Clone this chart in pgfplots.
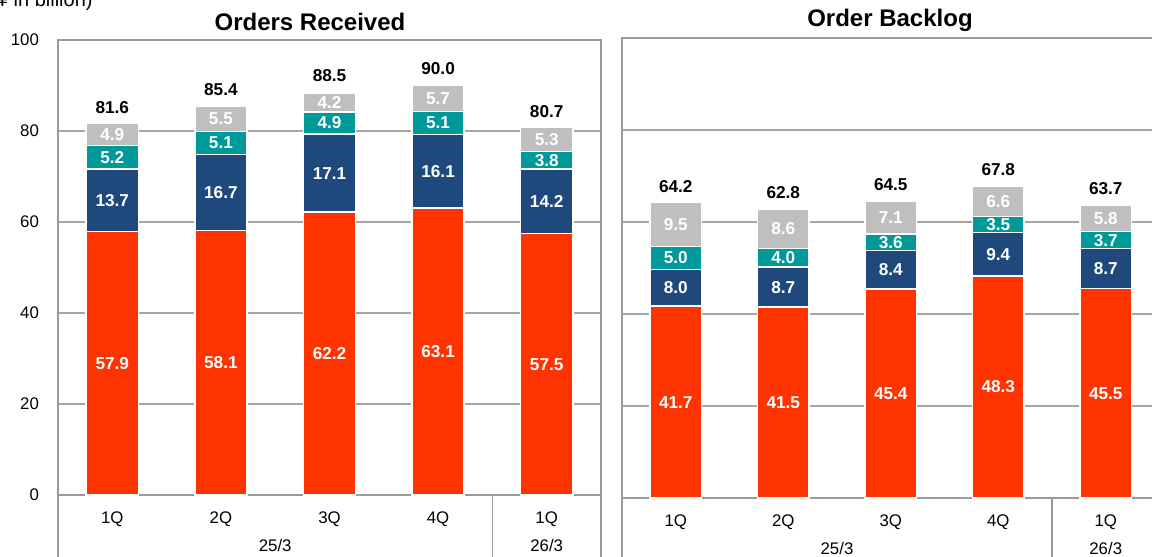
\documentclass[border=0pt]{standalone}
\usepackage{fontspec}
\setmainfont{Liberation Sans}
\usepackage{pgfplots}
\usepackage{pgfplotstable}
\pgfplotsset{compat=1.18}

\definecolor{cRed}{HTML}{FF3300}
\definecolor{cNavy}{HTML}{1F497D}
\definecolor{cTeal}{HTML}{009999}
\definecolor{cGrey}{HTML}{BFBFBF}
\definecolor{axisgray}{HTML}{9A9A9A}
\definecolor{gridgray}{HTML}{A6A6A6}

\newcommand\tickfont{\fontsize{8.4}{10}\selectfont}
\newcommand\lblfont{\fontsize{8.6}{10}\selectfont\bfseries}
\newcommand\titlefont{\fontsize{12}{14}\selectfont\bfseries}

% quarter, segments from bottom to top, total
\pgfplotstableread{
x r n t g tot
0 57.9 13.7 5.2 4.9 81.6
1 58.1 16.7 5.1 5.5 85.4
2 62.2 17.1 4.9 4.2 88.5
3 63.1 16.1 5.1 5.7 90.0
4 57.5 14.2 3.8 5.3 80.7
}\ordtab

\pgfplotstableread{
x r n t g tot
0 41.7 8.0 5.0 9.5 64.2
1 41.5 8.7 4.0 8.6 62.8
2 45.4 8.4 3.6 7.1 64.5
3 48.3 9.4 3.5 6.6 67.8
4 45.5 8.7 3.7 5.8 63.7
}\bcktab

\pgfplotsset{
  frame/.style={
    scale only axis, anchor=south west,
    xmin=-0.5, xmax=4.5, ymin=0, ymax=100,
    clip=false,
  },
  panel/.style={
    frame,
    ybar stacked, bar width=0.48,
    ytick={0,20,...,100},
    xtick={0,...,4}, xticklabels={1Q,2Q,3Q,4Q,1Q},
    ymajorgrids, grid style={gridgray, line width=0.75pt},
    axis line style={axisgray, line width=0.75pt},
    major tick length=0pt,
    tick label style={font=\tickfont},
    xticklabel style={yshift=-5pt},
    /pgf/number format/assume math mode=true,
  },
  labels/.style={frame, hide axis},
  seg/.style={fill=#1, draw=white, line width=0.75pt},
  seglbl/.style={
    draw=none, mark=none,
    nodes near coords, point meta=explicit symbolic,
    every node near coord/.append style={font=\lblfont, text=white,
      anchor=center, inner sep=0pt},
  },
  totlbl/.style={
    draw=none, mark=none,
    nodes near coords, point meta=explicit symbolic,
    every node near coord/.append style={font=\lblfont, text=black,
      anchor=south, inner sep=0pt, yshift=5pt},
  },
}

\begin{document}
\begin{tikzpicture}[x=1pt,y=1pt]
\useasboundingbox (-29,-31) rectangle (547,247.5);

% ---------------- Orders received ----------------
\begin{axis}[panel, at={(0pt,0pt)}, width=271.5pt, height=227.5pt,
  yticklabel style={xshift=-6pt}]
  \addplot[seg=cRed]  table[x=x, y=r]{\ordtab};
  \addplot[seg=cNavy] table[x=x, y=n]{\ordtab};
  \addplot[seg=cTeal] table[x=x, y=t]{\ordtab};
  \addplot[seg=cGrey] table[x=x, y=g]{\ordtab};
  \foreach \xx in {-0.5,3.5,4.5}{
    \edef\tmp{\noexpand\draw[axisgray, line width=0.75pt]
      (axis cs:\xx,0) -- ([yshift=-40pt]axis cs:\xx,0);}\tmp
  }
  \node[font=\tickfont] at ([yshift=-25pt]axis cs:1.5,0) {25/3};
  \node[font=\tickfont] at ([yshift=-25pt]axis cs:4,0) {26/3};
\end{axis}
\begin{axis}[labels, at={(0pt,0pt)}, width=271.5pt, height=227.5pt]
  \addplot[seglbl] table[x=x, y expr=\thisrow{r}/2, meta=r]{\ordtab};
  \addplot[seglbl] table[x=x, y expr=\thisrow{r}+\thisrow{n}/2, meta=n]{\ordtab};
  \addplot[seglbl] table[x=x, y expr=\thisrow{r}+\thisrow{n}+\thisrow{t}/2, meta=t]{\ordtab};
  \addplot[seglbl] table[x=x, y expr=\thisrow{r}+\thisrow{n}+\thisrow{t}+\thisrow{g}/2, meta=g]{\ordtab};
  \addplot[totlbl] table[x=x, y=tot, meta=tot]{\ordtab};
\end{axis}

% ---------------- Order backlog ----------------
\begin{axis}[panel, at={(282pt,-1.5pt)}, width=268.75pt, height=230pt,
  yticklabels={}]
  \addplot[seg=cRed]  table[x=x, y=r]{\bcktab};
  \addplot[seg=cNavy] table[x=x, y=n]{\bcktab};
  \addplot[seg=cTeal] table[x=x, y=t]{\bcktab};
  \addplot[seg=cGrey] table[x=x, y=g]{\bcktab};
  \foreach \xx in {-0.5,3.5}{
    \edef\tmp{\noexpand\draw[axisgray, line width=0.75pt]
      (axis cs:\xx,0) -- ([yshift=-40pt]axis cs:\xx,0);}\tmp
  }
  \node[font=\tickfont] at ([yshift=-25pt]axis cs:1.5,0) {25/3};
  \node[font=\tickfont] at ([yshift=-25pt]axis cs:4,0) {26/3};
\end{axis}
\begin{axis}[labels, at={(282pt,-1.5pt)}, width=268.75pt, height=230pt]
  \addplot[seglbl] table[x=x, y expr=\thisrow{r}/2, meta=r]{\bcktab};
  \addplot[seglbl] table[x=x, y expr=\thisrow{r}+\thisrow{n}/2, meta=n]{\bcktab};
  \addplot[seglbl] table[x=x, y expr=\thisrow{r}+\thisrow{n}+\thisrow{t}/2, meta=t]{\bcktab};
  \addplot[seglbl] table[x=x, y expr=\thisrow{r}+\thisrow{n}+\thisrow{t}+\thisrow{g}/2, meta=g]{\bcktab};
  \addplot[totlbl] table[x=x, y=tot, meta=tot]{\bcktab};
\end{axis}

\node[font=\titlefont] at (126,236.5) {Orders Received};
\node[font=\titlefont] at (416,237.5) {Order Backlog};
\node[anchor=base east, font=\fontsize{10}{12}\selectfont, inner sep=0pt]
  at (17.5,244.3) {(¥ in billion)};
\end{tikzpicture}
\end{document}
